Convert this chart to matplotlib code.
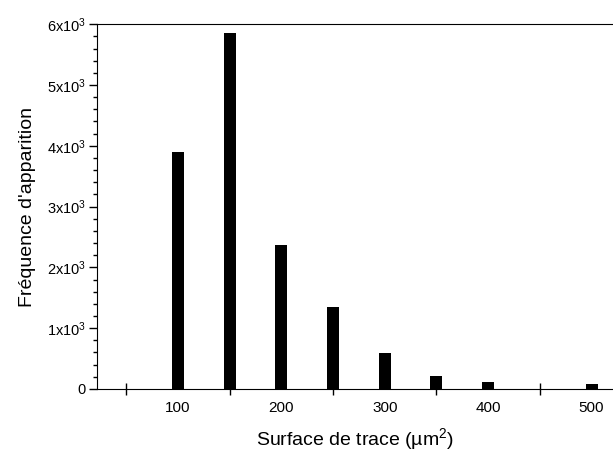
import matplotlib.pyplot as plt
from matplotlib.ticker import FixedLocator, MultipleLocator
import numpy as np

plt.rcParams['font.family'] = ['Liberation Sans', 'DejaVu Sans']
plt.rcParams['mathtext.fontset'] = 'custom'
plt.rcParams['mathtext.rm'] = 'Liberation Sans'
plt.rcParams['mathtext.it'] = 'Liberation Sans'

# data
surface = [100, 150, 200, 250, 300, 350, 400, 450, 500]
frequence = [3900, 5850, 2370, 1340, 590, 215, 115, 0, 75]
y_ticks = [0, 1000, 2000, 3000, 4000, 5000, 6000]
y_labels = ["0", "1x10$^3$", "2x10$^3$", "3x10$^3$", "4x10$^3$", "5x10$^3$", "6x10$^3$"]
x_labels = [100, 200, 300, 400, 500]

fig = plt.figure(figsize=(6.13, 4.57), dpi=100)
ax = fig.add_axes([0.158, 0.149, 0.842, 0.798])

ax.bar(surface, frequence, width=11.5, color='black')

ax.set_xlim(21.7, 520.7)
ax.set_ylim(0, 6000)
ax.spines['right'].set_visible(False)

# unlabeled major ticks between the labelled bins
ax.xaxis.set_major_locator(FixedLocator([50, 150, 250, 350, 450]))
ax.xaxis.set_minor_locator(FixedLocator(x_labels))
ax.set_xticklabels([])
ax.set_xticklabels([str(v) for v in x_labels], minor=True)
ax.tick_params(axis='x', which='major', direction='inout', length=8, width=1)
ax.tick_params(axis='x', which='minor', length=0, pad=9, labelsize=11)

ax.set_yticks(y_ticks)
ax.set_yticklabels(y_labels)
ax.yaxis.set_minor_locator(MultipleLocator(200))
ax.tick_params(axis='y', which='major', direction='out', length=6, width=1, labelsize=10.5, pad=2)
ax.tick_params(axis='y', which='minor', direction='out', length=3, width=1)

ax.set_xlabel("Surface de trace (µm$^2$)", fontsize=14, labelpad=8)
ax.set_ylabel("Fréquence d'apparition", fontsize=14, labelpad=8)

plt.savefig("out.png", dpi=100)
